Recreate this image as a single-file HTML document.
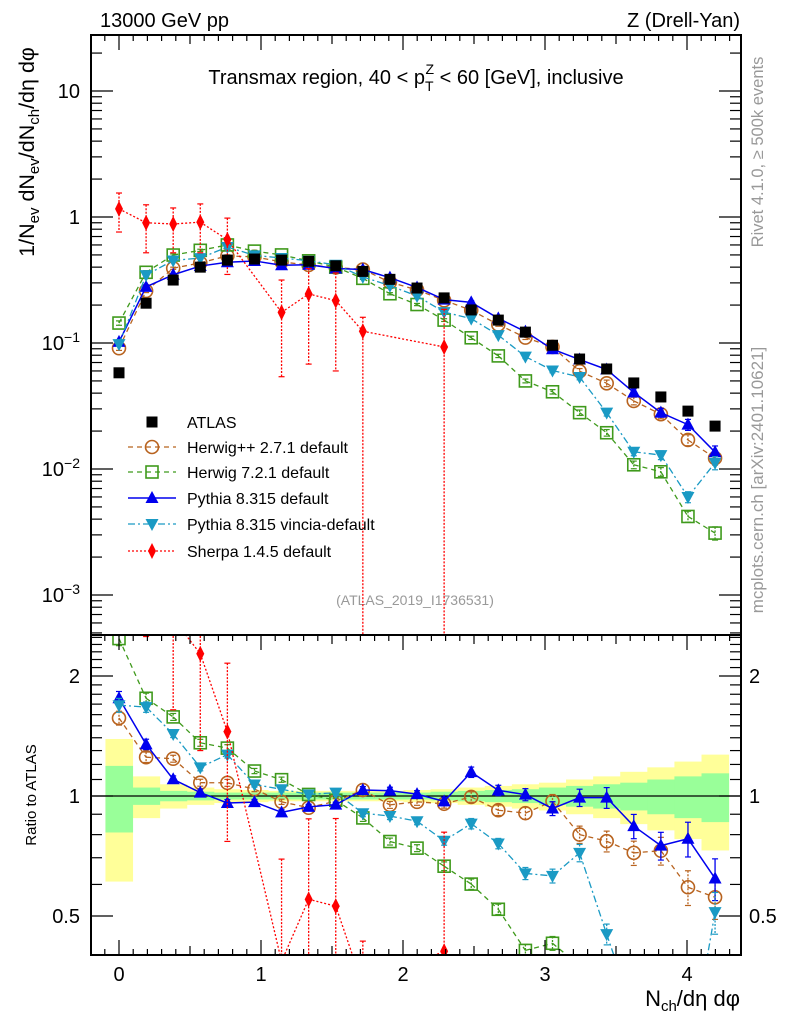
<!DOCTYPE html>
<html><head><meta charset="utf-8"><style>
html,body{margin:0;padding:0;background:#fff;overflow:hidden;width:786px;height:1024px;}
svg{display:block;font-family:"Liberation Sans",sans-serif;}
</style></head><body>
<svg id="c" width="786" height="1024" viewBox="0 0 786 1024" xmlns="http://www.w3.org/2000/svg">
<defs>
<clipPath id="cm"><rect x="91" y="35" width="650" height="600"/></clipPath>
<clipPath id="cr"><rect x="91" y="635" width="650" height="320"/></clipPath>
</defs>
<text x="100" y="27" font-size="20">13000 GeV pp</text>
<text x="740" y="27" font-size="20" text-anchor="end">Z (Drell-Yan)</text>
<text x="416" y="84" font-size="20" text-anchor="middle">Transmax region, 40 &lt; p<tspan font-size="14" dy="7">T</tspan><tspan font-size="14" dx="-8" dy="-17">Z</tspan><tspan dy="10"> &lt; 60 [GeV], inclusive</tspan></text>
<text x="415" y="605" font-size="14" fill="#999" text-anchor="middle">(ATLAS_2019_I1736531)</text>
<text transform="translate(763,152) rotate(-90)" font-size="16.5" fill="#999" text-anchor="middle">Rivet 4.1.0, ≥ 500k events</text>
<text transform="translate(763,480) rotate(-90)" font-size="17" fill="#999" text-anchor="middle">mcplots.cern.ch [arXiv:2401.10621]</text>
<text transform="translate(34,152) rotate(-90)" font-size="21.5" text-anchor="middle">1/N<tspan font-size="15" dy="5">ev</tspan><tspan dy="-5"> dN</tspan><tspan font-size="15" dy="5">ev</tspan><tspan dy="-5">/dN</tspan><tspan font-size="15" dy="5">ch</tspan><tspan dy="-5">/dη dφ</tspan></text>
<text transform="translate(36,795) rotate(-90)" font-size="15" text-anchor="middle">Ratio to ATLAS</text>
<text x="740" y="1006" font-size="22" text-anchor="end">N<tspan font-size="15" dy="5">ch</tspan><tspan dy="-5">/dη dφ</tspan></text>
<g id="g"></g>
</svg>
<script>
const xs = [0,0.1908,0.3816,0.5724,0.7632,0.954,1.1448,1.3356,1.5264,1.7172,1.908,2.0988,2.2896,2.4804,2.6712,2.862,3.0528,3.2436,3.4344,3.6252,3.816,4.0068,4.1976];
const atlas = [0.058,0.207,0.316,0.40,0.455,0.464,0.455,0.445,0.41,0.37,0.32,0.273,0.228,0.183,0.152,0.122,0.096,0.0746,0.0622,0.0482,0.0373,0.0288,0.0219];
const bandYellow = [0.39,0.12,0.07,0.05,0.04,0.035,0.03,0.03,0.03,0.03,0.03,0.035,0.04,0.05,0.06,0.07,0.08,0.1,0.12,0.15,0.18,0.22,0.27];
const bandGreen = [0.19,0.05,0.03,0.025,0.02,0.02,0.02,0.02,0.02,0.02,0.02,0.02,0.025,0.03,0.035,0.04,0.05,0.06,0.07,0.08,0.1,0.12,0.14];
const herwigpp = [0.091,0.259,0.392,0.432,0.491,0.483,0.44,0.416,0.398,0.383,0.304,0.264,0.218,0.182,0.14,0.1105,0.0931,0.0597,0.0479,0.0347,0.0272,0.017,0.0122];
const herwig7 = [0.144,0.364,0.499,0.544,0.60,0.536,0.50,0.449,0.40,0.326,0.246,0.202,0.152,0.11,0.079,0.05,0.041,0.028,0.0194,0.0108,0.0095,0.0042,0.0031];
const pythia = [0.102,0.279,0.348,0.408,0.437,0.448,0.414,0.418,0.39,0.383,0.33,0.276,0.221,0.21,0.157,0.123,0.0893,0.0739,0.0616,0.0405,0.028,0.0225,0.0136];
const vincia = [0.098,0.346,0.452,0.472,0.578,0.496,0.473,0.449,0.418,0.335,0.285,0.236,0.176,0.156,0.1155,0.078,0.0605,0.0537,0.028,0.0137,0.0129,0.006,0.0112];
const sherpa = [1.16,0.90,0.88,0.91,0.66,null,0.175,0.245,0.217,0.124,null,null,0.093,null,null,null,null,null,null,null,null,null,null];
const sherpaHi = [1.55,1.25,1.18,1.27,0.98,null,0.316,0.39,0.36,0.16,null,null,0.185,null,null,null,null,null,null,null,null,null,null];
const sherpaLo = [0.76,0.52,0.52,0.52,0.35,null,0.054,0.068,0.06,0.0001,null,null,0.0001,null,null,null,null,null,null,null,null,null,null];
const mcRelErr = [0.04,0.03,0.02,0.02,0.02,0.015,0.015,0.015,0.015,0.02,0.02,0.02,0.025,0.03,0.03,0.035,0.04,0.05,0.06,0.07,0.08,0.1,0.12];
const mainTicks = ["10","1","10^-1","10^-2","10^-3"];
const mainTickVals = [10,1,0.1,0.01,0.001];
const ratioTicks = ["2","1","0.5"];
const ratioTickVals = [2,1,0.5];
const xTicks = ["0","1","2","3","4"];
const xTickVals = [0,1,2,3,4];

const NS="http://www.w3.org/2000/svg";
const G=document.getElementById('g');
const L=91,R=741,MT=35,MB=635,RT=635,RB=955;
const X=v=>119+142*v;
const YM=v=>217-126*Math.log10(v);
const YR=v=>796-398.6*Math.log10(v);
const clampY=(y,t,b)=>Math.max(t-20,Math.min(b+20,y));
function el(t,a,p){const e=document.createElementNS(NS,t);for(const k in a)e.setAttribute(k,a[k]);(p||G).appendChild(e);return e;}
const gm=el('g',{'clip-path':'url(#cm)'});


const gr=el('g',{'clip-path':'url(#cr)'});



const hw=0.0954;
for(let i=0;i<xs.length;i++){
  const y1=YR(1+bandYellow[i]),y2=YR(Math.max(1-bandYellow[i],0.5));
  const r=el('rect',{x:X(xs[i]-hw),y:y1,width:X(xs[i]+hw)-X(xs[i]-hw)+0.5,height:y2-y1,fill:'#ffff99'},gr);
  
  
}
for(let i=0;i<xs.length;i++){
  const y1=YR(1+bandGreen[i]),y2=YR(1-bandGreen[i]);
  const r=el('rect',{x:X(xs[i]-hw),y:y1,width:X(xs[i]+hw)-X(xs[i]-hw)+0.5,height:y2-y1,fill:'#99ff99'},gr);
  
  
}
const ref=el('line',{x1:L,x2:R,y1:YR(1),y2:YR(1),stroke:'#000','stroke-width':1.2},gr);



function marker(type,x,y,c,p){
  let m;
  if(type==='sq') m=el('rect',{x:x-5.5,y:y-5.5,width:11,height:11,fill:'#000'},p);
  else if(type==='osq') m=el('rect',{x:x-6,y:y-6,width:12,height:12,fill:'none',stroke:c,'stroke-width':1.6},p);
  else if(type==='oc') m=el('circle',{cx:x,cy:y,r:6.5,fill:'none',stroke:c,'stroke-width':1.6},p);
  else if(type==='tu') m=el('polygon',{points:`${x},${y-7} ${x-6.5},${y+5} ${x+6.5},${y+5}`,fill:c},p);
  else if(type==='td') m=el('polygon',{points:`${x},${y+7} ${x-6.5},${y-5} ${x+6.5},${y-5}`,fill:c},p);
  else m=el('polygon',{points:`${x},${y-8} ${x-4},${y} ${x},${y+8} ${x+4},${y}`,fill:c},p);
  return m;
}
const series=[
 {name:'herwigpp',vals:herwigpp,c:'#b8631f',dash:'5,4',mk:'oc',w:1.3},
 {name:'herwig7',vals:herwig7,c:'#3f9a1c',dash:'5,4',mk:'osq',w:1.3},
 {name:'pythia',vals:pythia,c:'#0000ee',dash:'',mk:'tu',w:1.5},
 {name:'vincia',vals:vincia,c:'#1a9ac4',dash:'7,3,2,3',mk:'td',w:1.3},
 {name:'sherpa',vals:sherpa,c:'#ff0000',dash:'2,2',mk:'di',w:1.3}
];
function drawSeries(s,ratio){
  const p=ratio?gr:gm, Y=ratio?YR:YM;
  const T=ratio?RT:MT, B=ratio?RB:MB;
  const g=el('g',{},p);
  
  
  const pts=[];
  for(let i=0;i<xs.length;i++){ if(s.vals[i]==null)continue; const v=ratio?s.vals[i]/atlas[i]:s.vals[i]; pts.push([X(xs[i]),Y(v),i,v]); }
  // clip polyline vertices to a sane range while preserving direction
  const lp=[];
  for(let k=0;k<pts.length;k++){
    const [x,y]=pts[k];
    if(y>=T-300&&y<=B+300){lp.push([x,y]);continue;}
    lp.push([x,y]); // keep; will be clamped below via interpolation
  }
  const segs=[];
  for(let k=0;k+1<pts.length;k++){
    let [x1,y1]=pts[k],[x2,y2]=pts[k+1];
    const lo=T-10, hi=B+10;
    if((y1<lo&&y2<lo)||(y1>hi&&y2>hi))continue;
    const cl=(xa,ya,xb,yb)=>{ if(ya<lo){const t=(lo-ya)/(yb-ya);return [xa+t*(xb-xa),lo];} if(ya>hi){const t=(hi-ya)/(yb-ya);return [xa+t*(xb-xa),hi];} return [xa,ya]; };
    const a=cl(x1,y1,x2,y2), b=cl(x2,y2,x1,y1);
    segs.push('M'+a[0]+','+a[1]+'L'+b[0]+','+b[1]);
  }
  const ln=el('path',{d:segs.join(''),fill:'none',stroke:s.c,'stroke-width':s.w,'stroke-dasharray':s.dash},g);
  
  
  for(const [x,y,i,v] of pts){
    let hi,lo;
    if(s.name==='sherpa'){ const f=ratio?1/atlas[i]:1; hi=sherpaHi[i]*f; lo=sherpaLo[i]*f; }
    else { hi=v*(1+mcRelErr[i]); lo=v*(1-mcRelErr[i]); }
    const yh=clampY(Y(hi),T,B), yl=clampY(Y(lo),T,B);
    if(yh<B+20&&yl>T-20&&yh!==yl){
      const e=el('line',{x1:x,x2:x,y1:yh,y2:yl,stroke:s.c,'stroke-width':1.3,'stroke-dasharray':s.dash?'2,1.5':''},g);
      
      
      el('line',{x1:x-3,x2:x+3,y1:yh,y2:yh,stroke:s.c,'stroke-width':1.2},g);
      el('line',{x1:x-3,x2:x+3,y1:yl,y2:yl,stroke:s.c,'stroke-width':1.2},g);
    }
    if(y>T-15&&y<B+15){
      const m=marker(s.mk,x,y,s.c,g);
      
      
    }
  }
}
for(const s of series){drawSeries(s,false);drawSeries(s,true);}
const ga=el('g',{},gm);


for(let i=0;i<xs.length;i++){
  const m=marker('sq',X(xs[i]),YM(atlas[i]),'#000',ga);
  
  
}

for(const [t,b,n] of [[MT,MB,'main-frame'],[RT,RB,'ratio-frame']]){
  const f=el('rect',{x:L,y:t,width:R-L,height:b-t,fill:'none',stroke:'#000','stroke-width':2});
  
  
}
for(let k=-2;k<=43;k++){
  const v=k/10, x=X(v); if(x<L||x>R)continue;
  const len=(k%10===0)?15:(k%5===0?9:6);
  for(const [y0,d] of [[MT,1],[RT,1],[RB,-1]]) el('line',{x1:x,x2:x,y1:y0,y2:y0+d*len,stroke:'#000','stroke-width':1.2});
}
for(let i=0;i<xTicks.length;i++){
  const t=el('text',{x:X(xTickVals[i]),y:981,'font-size':20,'text-anchor':'middle'});
  t.textContent=xTicks[i];
  
  
}
for(let d=-4;d<=1;d++){
  for(let m=1;m<10;m++){
    const v=m*Math.pow(10,d), y=YM(v); if(y<MT||y>MB)continue;
    const len=m===1?22:11;
    el('line',{x1:L,x2:L+len,y1:y,y2:y,stroke:'#000','stroke-width':1.2});
    el('line',{x1:R,x2:R-len,y1:y,y2:y,stroke:'#000','stroke-width':1.2});
  }
}
for(let i=0;i<mainTicks.length;i++){
  const y=YM(mainTickVals[i])+7, s=mainTicks[i];
  const t=el('text',{x:80,y:y,'font-size':20,'text-anchor':'end'});
  if(s.indexOf('^')>0){const [b,e]=s.split('^'); t.textContent=b; const ts=el('tspan',{'font-size':14,dy:-8},t); ts.textContent=e.replace('-','−');}
  else t.textContent=s;
  
  
}
const rmin=[0.4,0.5,0.6,0.7,0.8,0.9,1,1.1,1.2,1.3,1.4,1.5,1.6,1.7,1.8,1.9,2,2.1,2.2,2.3,2.4,2.5];
for(const v of rmin){
  const y=YR(v); if(y<RT||y>RB)continue;
  const len=(v===0.5||v===1||v===2)?22:11;
  el('line',{x1:L,x2:L+len,y1:y,y2:y,stroke:'#000','stroke-width':1.2});
  el('line',{x1:R,x2:R-len,y1:y,y2:y,stroke:'#000','stroke-width':1.2});
}
for(let i=0;i<ratioTicks.length;i++){
  const y=YR(ratioTickVals[i])+7;
  for(const [x,a] of [[80,'end'],[749,'start']]){
    const t=el('text',{x:x,y:y,'font-size':20,'text-anchor':a});
    t.textContent=ratioTicks[i];
    
    
  }
}
const leg=el('g',{});


const legNames=['ATLAS','Herwig++ 2.7.1 default','Herwig 7.2.1 default','Pythia 8.315 default','Pythia 8.315 vincia-default','Sherpa 1.4.5 default'];
const legY=[422,447,472,498,524,551];
for(let i=0;i<6;i++){
  const y=legY[i];
  const e=el('g',{},leg);
  
  
  if(i===0) marker('sq',152,y,'#000',e);
  else { const s=series[i-1]; el('line',{x1:128,x2:176,y1:y,y2:y,stroke:s.c,'stroke-width':s.w,'stroke-dasharray':s.dash},e); marker(s.mk,152,y,s.c,e); }
  const t=el('text',{x:187,y:y+6,'font-size':16},e);
  t.textContent=legNames[i];
}
</script>
</body></html>
